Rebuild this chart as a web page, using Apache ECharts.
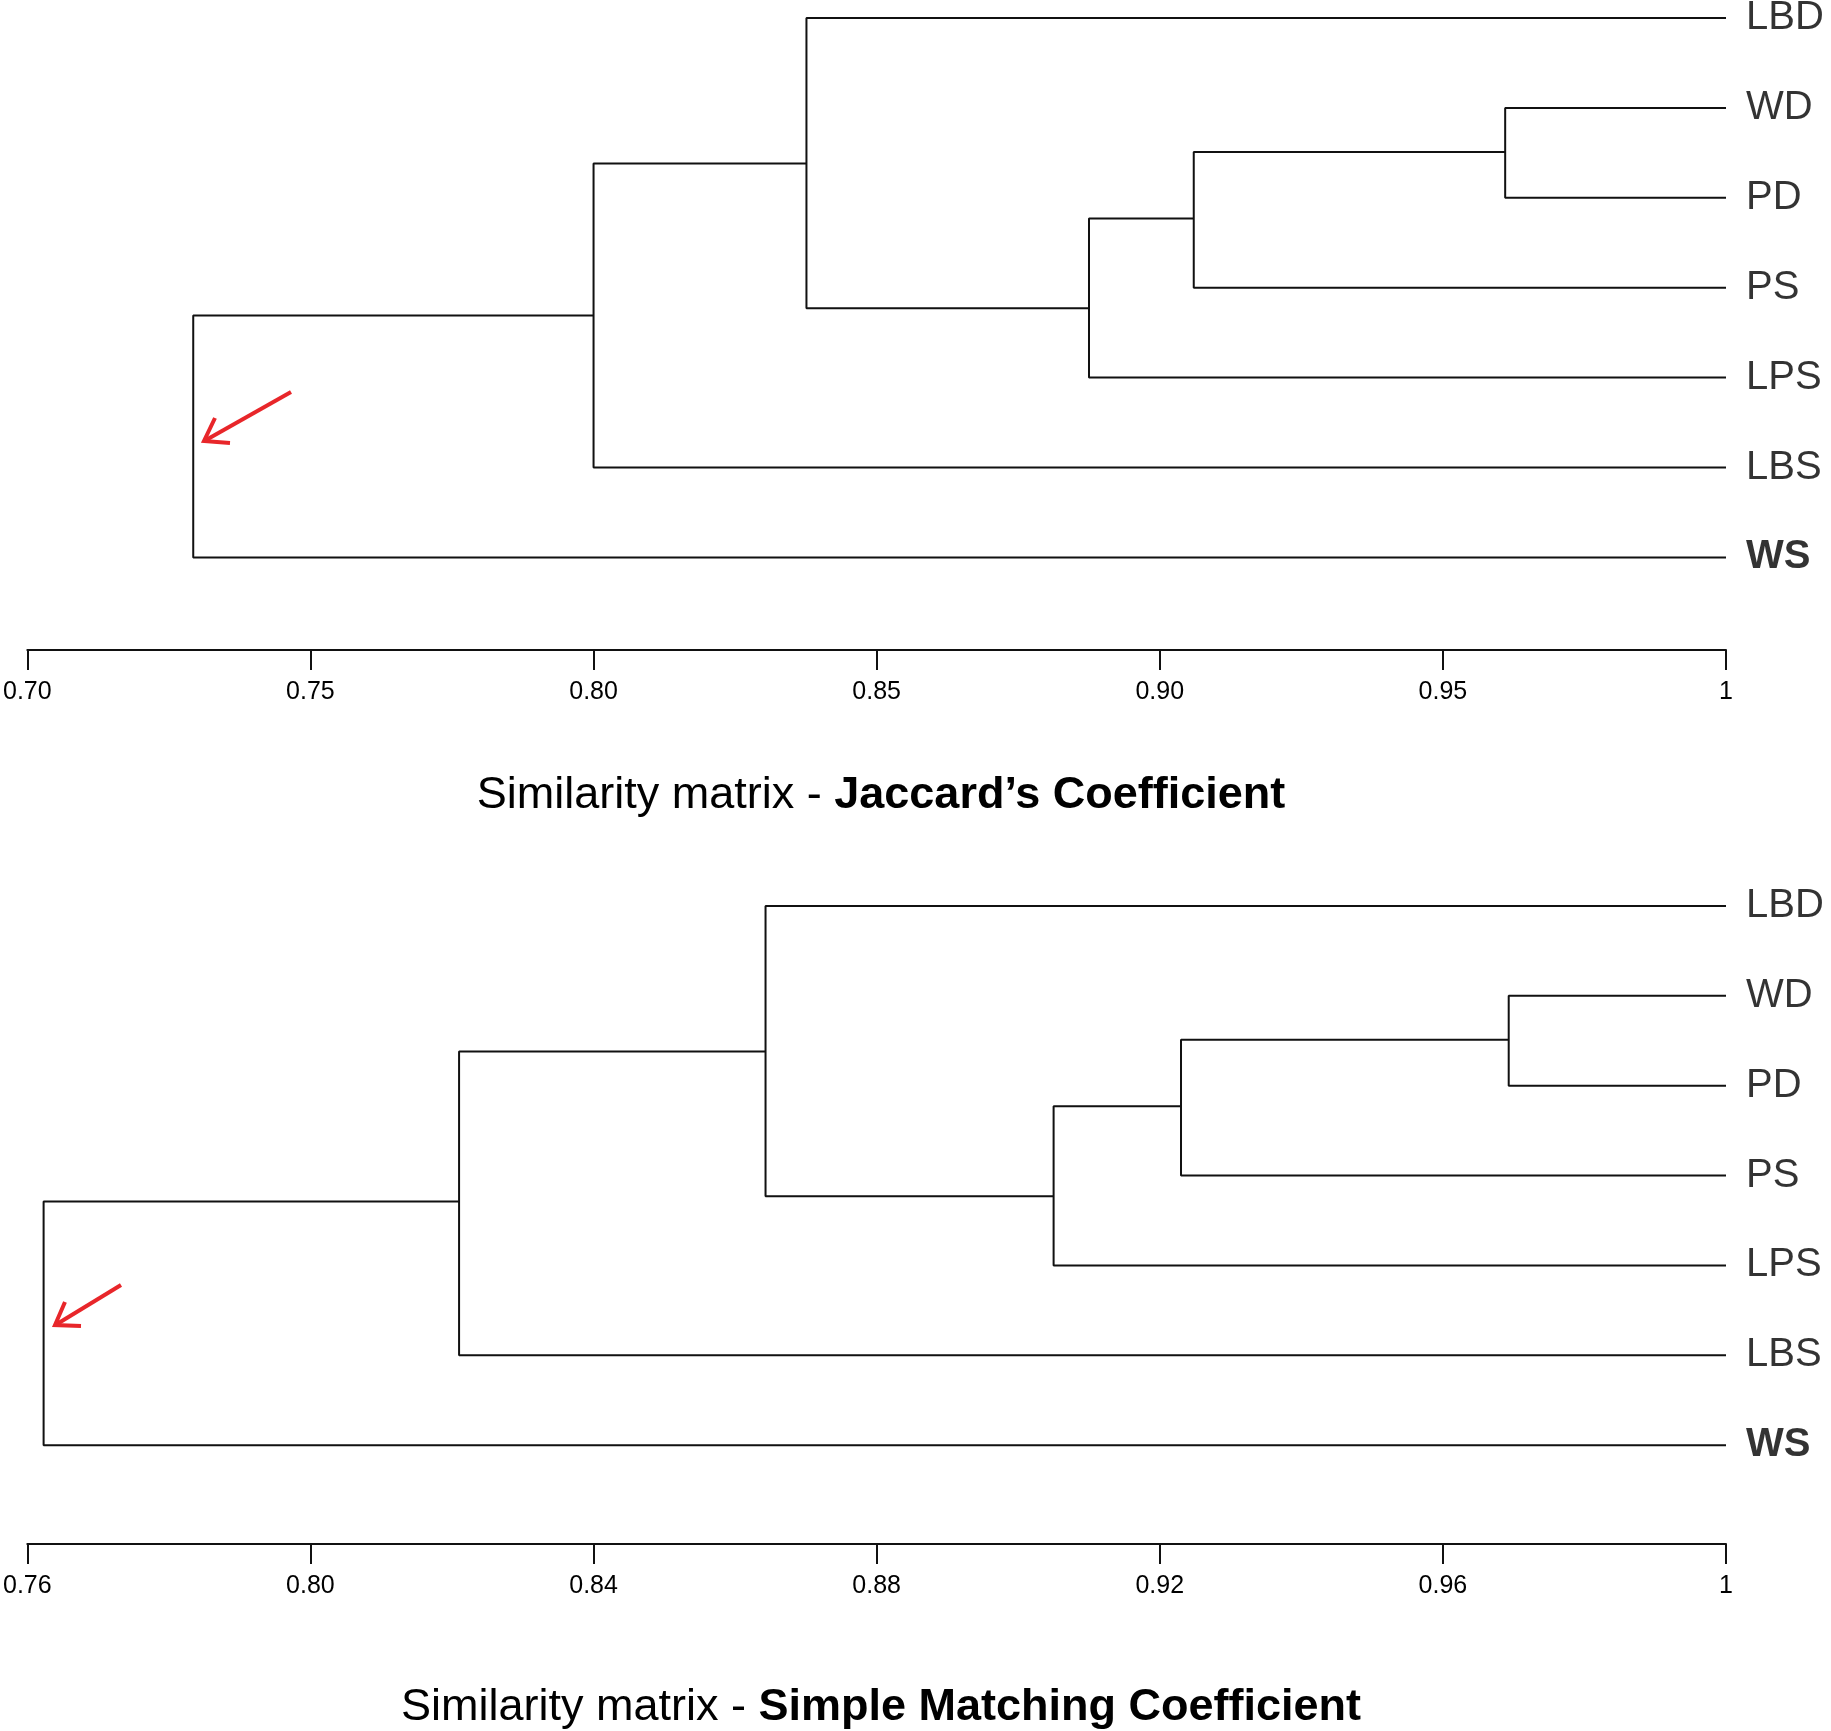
<!DOCTYPE html>
<html>
<head>
<meta charset="utf-8">
<script src="https://cdn.jsdelivr.net/npm/echarts@6/dist/echarts.min.js"></script>
<style>html,body{margin:0;padding:0;background:#fff}#main{width:1831px;height:1731px}</style>
</head>
<body>
<div id="main"></div>
<script>
// leaves top to bottom
var leaves = ['LBD', 'WD', 'PD', 'PS', 'LPS', 'LBS', 'WS'];
// merges: children are leaf names or merge indexes (m0..)
var merges = [['WD', 'PD'], ['m0', 'PS'], ['m1', 'LPS'], ['LBD', 'm2'], ['m3', 'LBS'], ['m4', 'WS']];
var jaccardHeights = [0.961, 0.906, 0.8875, 0.8376, 0.800, 0.7293];
var smcHeights = [0.9693, 0.923, 0.905, 0.8643, 0.821, 0.7623];
// row position of each merge node as drawn
var jaccardRows = [1.49, 2.23, 3.23, 1.62, 3.31];
var smcRows = [1.49, 2.23, 3.23, 1.62, 3.29];
var jaccardTicks = { min: 0.70, max: 1, interval: 0.05 };
var smcTicks = { min: 0.76, max: 1, interval: 0.04 };

function treeSeries(heights, rows, idx) {
    var pos = {};
    leaves.forEach(function (l, i) { pos[l] = [1, i]; });
    var out = [];
    merges.forEach(function (m, k) {
        var a = pos[m[0]], b = pos[m[1]], h = heights[k];
        out.push({
            type: 'line', xAxisIndex: idx, yAxisIndex: idx, symbol: 'none', silent: true,
            lineStyle: { color: '#111', width: 2 },
            data: [[a[0], a[1]], [h, a[1]], [h, b[1]], [b[0], b[1]]]
        });
        pos['m' + k] = [h, rows[k] !== undefined ? rows[k] : (a[1] + b[1]) / 2];
    });
    out.push({
        type: 'scatter', xAxisIndex: idx, yAxisIndex: idx, symbolSize: 0, silent: true,
        data: leaves.map(function (l, i) { return [1, i, l]; }),
        label: {
            show: true, position: 'right', distance: 20,
            formatter: function (p) { return p.data[2] === 'WS' ? '{b|WS}' : p.data[2]; },
            fontSize: 40, color: '#000', fontFamily: 'Liberation Sans',
            rich: { b: { fontSize: 40, fontWeight: 'bold', color: '#000', fontFamily: 'Liberation Sans' } }
        }
    });
    return out;
}

function xAxis(t, idx) {
    return {
        type: 'value', gridIndex: idx, min: t.min, max: t.max, interval: t.interval,
        position: 'bottom', splitLine: { show: false },
        axisLine: { onZero: false, lineStyle: { color: '#111', width: 2 } },
        axisTick: { length: 20, lineStyle: { color: '#111', width: 2 } },
        axisLabel: {
            margin: 30, fontSize: 25, color: '#000', fontFamily: 'Liberation Sans',
            formatter: function (v) { return v >= 1 ? '1' : v.toFixed(2); },
            showMinLabel: true, showMaxLabel: true
        }
    };
}

var titleStyle = { fontSize: 45, fontWeight: 'normal', color: '#000', fontFamily: 'Liberation Sans',
    rich: { b: { fontSize: 45, fontWeight: 'bold', color: '#000', fontFamily: 'Liberation Sans' } } };

var chart = echarts.init(document.getElementById('main'));
chart.setOption({
    animation: false,
    grid: [
        { left: 26, right: 105, top: 0, height: 650 },
        { left: 26, right: 105, top: 888, height: 656 }
    ],
    xAxis: [xAxis(jaccardTicks, 0), xAxis(smcTicks, 1)],
    yAxis: [
        { type: 'value', gridIndex: 0, min: -0.2, max: 7.03, inverse: true, show: false },
        { type: 'value', gridIndex: 1, min: -0.2, max: 7.1, inverse: true, show: false }
    ],
    title: [
        { text: 'Similarity matrix - {b|Jaccard\u2019s Coefficient}', left: 876, top: 768, textAlign: 'center', textStyle: titleStyle },
        { text: 'Similarity matrix - {b|Simple Matching Coefficient}', left: 876, top: 1680, textAlign: 'center', textStyle: titleStyle }
    ],
    graphic: [
        { type: 'line', shape: { x1: 291, y1: 392, x2: 206, y2: 440 }, style: { stroke: '#e8262a', lineWidth: 4 } },
        { type: 'polyline', shape: { points: [[215, 418], [204, 441], [230, 443]] }, style: { stroke: '#e8262a', lineWidth: 4, fill: null } },
        { type: 'line', shape: { x1: 121, y1: 1285, x2: 57, y2: 1324 }, style: { stroke: '#e8262a', lineWidth: 4 } },
        { type: 'polyline', shape: { points: [[65, 1302], [55, 1325], [81, 1326]] }, style: { stroke: '#e8262a', lineWidth: 4, fill: null } }
    ],
    series: treeSeries(jaccardHeights, jaccardRows, 0).concat(treeSeries(smcHeights, smcRows, 1))
});
</script>
</body>
</html>
